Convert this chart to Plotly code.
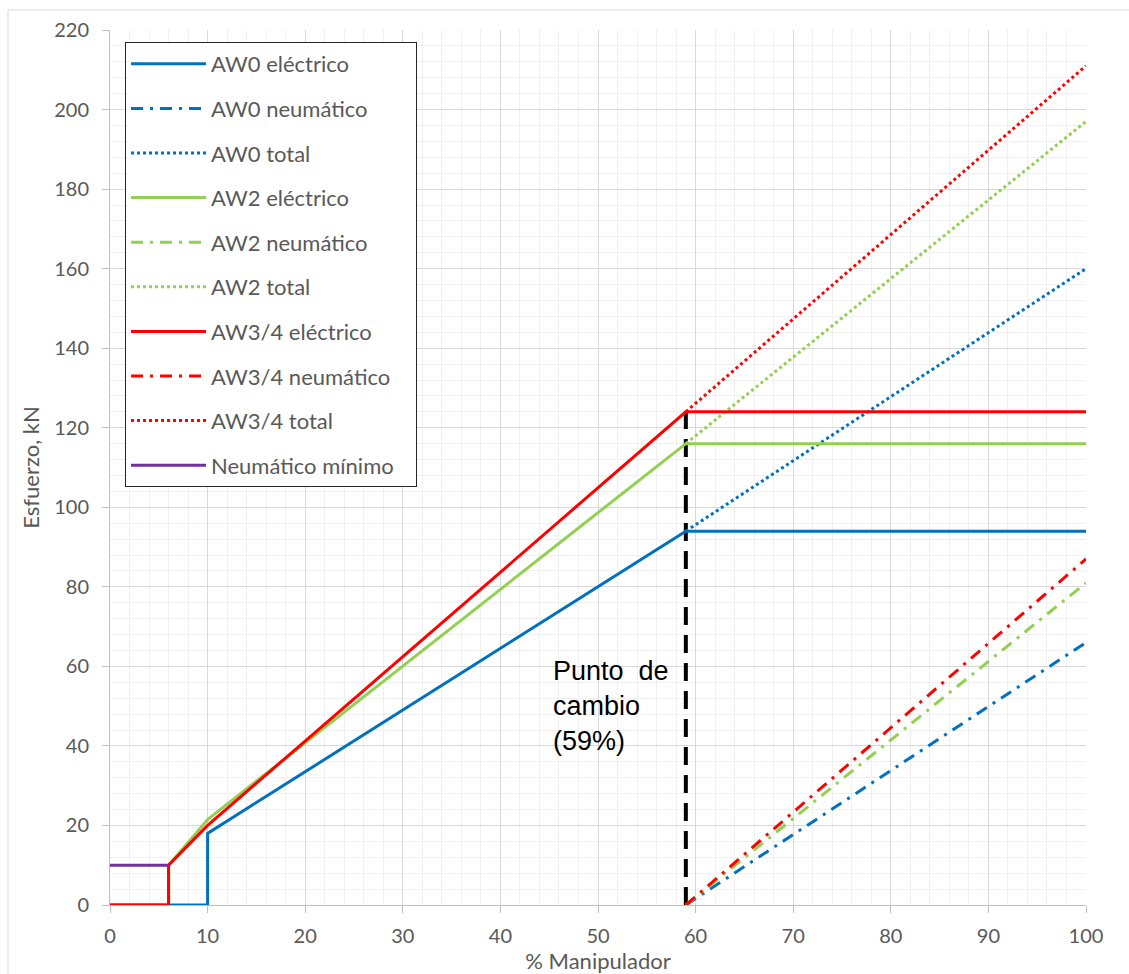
import plotly.graph_objects as go

# % manipulator positions and braking effort (kN) for each train type
x_aw0_elec = [0, 6, 10, 10, 59, 100]
y_aw0_elec = [0, 0, 0, 18, 94, 94]
x_aw2_elec = [0, 6, 6, 10, 59, 100]
y_aw2_elec = [0, 0, 10, 21.5, 116, 116]
x_aw34_elec = [0, 6, 6, 10, 59, 100]
y_aw34_elec = [0, 0, 10, 20, 124, 124]

# pneumatic contribution after the change point
x_neum = [59, 100]
y_aw0_neum = [0, 66]
y_aw2_neum = [0, 81]
y_aw34_neum = [0, 87]

# total effort (electric + pneumatic) after the change point
x_total = [59, 100]
y_aw0_total = [94, 160]
y_aw2_total = [116, 197]
y_aw34_total = [124, 211]

# minimum pneumatic effort
x_min = [0, 6]
y_min = [10, 10]

# change point
change_x = 59
change_y_top = 124

BLUE = "#0070C0"
GREEN = "#92D050"
RED = "#FF0000"
PURPLE = "#7030A0"
GRAY_TXT = "#595959"
FONT = "Lato, Open Sans, sans-serif"

DASHDOT = "12px,7px,3px,7px"

series = [
    ("AW0 eléctrico", x_aw0_elec, y_aw0_elec, BLUE, "solid"),
    ("AW0 neumático", x_neum, y_aw0_neum, BLUE, DASHDOT),
    ("AW0 total", x_total, y_aw0_total, BLUE, "dot"),
    ("AW2 eléctrico", x_aw2_elec, y_aw2_elec, GREEN, "solid"),
    ("AW2 neumático", x_neum, y_aw2_neum, GREEN, DASHDOT),
    ("AW2 total", x_total, y_aw2_total, GREEN, "dot"),
    ("AW3/4 eléctrico", x_aw34_elec, y_aw34_elec, RED, "solid"),
    ("AW3/4 neumático", x_neum, y_aw34_neum, RED, DASHDOT),
    ("AW3/4 total", x_total, y_aw34_total, RED, "dot"),
    # trailing no-break spaces give the legend box some right padding
    ("Neumático mínimo\u00a0\u00a0\u00a0", x_min, y_min, PURPLE, "solid"),
]

fig = go.Figure()

# vertical dashed marker for the change point
fig.add_trace(go.Scatter(
    x=[change_x, change_x], y=[0, change_y_top], mode="lines",
    line=dict(color="black", width=4, dash="18px,10px"),
    showlegend=False, hoverinfo="skip",
))

for i, (name, xs, ys, color, dash) in enumerate(series):
    fig.add_trace(go.Scatter(
        x=xs, y=ys, mode="lines", name=name,
        line=dict(color=color, width=3, dash=dash),
        legendgroup=f"g{i}",
    ))

fig.add_annotation(
    x=45.2, y=50, xref="x", yref="y",
    text="Punto\u00a0\u00a0de<br>cambio<br>(59%)",
    showarrow=False, xanchor="left", yanchor="middle", align="left",
    font=dict(family="Liberation Sans, Arial", size=27, color="black"),
)

# light outer chart border
fig.add_shape(
    type="rect", xref="paper", yref="paper",
    x0=-0.1045, x1=1.2, y0=-0.3, y1=1.0229,
    line=dict(color="#D9D9D9", width=1), fillcolor="rgba(0,0,0,0)", layer="below",
)

axis_font = dict(family=FONT, size=20, color=GRAY_TXT)
title_font = dict(family=FONT, size=22, color=GRAY_TXT)

fig.update_layout(
    width=1129, height=974,
    margin=dict(l=110, r=43, t=30, b=69),
    paper_bgcolor="white", plot_bgcolor="white",
    font=dict(family=FONT, color=GRAY_TXT),
    showlegend=True,
    legend=dict(
        x=0.0154, y=0.9863, xanchor="left", yanchor="top",
        bgcolor="white", bordercolor="#262626", borderwidth=1,
        font=dict(family=FONT, size=22, color=GRAY_TXT),
        tracegroupgap=13, itemwidth=75,
    ),
    xaxis=dict(
        range=[0, 100], dtick=10, tick0=0, automargin=False,
        showgrid=True, gridcolor="#D9D9D9", gridwidth=1,
        minor=dict(dtick=2, showgrid=True, gridcolor="#F0F0F0", gridwidth=1),
        showline=True, linecolor="#BFBFBF", linewidth=1,
        ticks="outside", ticklen=7, tickcolor="#BFBFBF",
        tickfont=axis_font, zeroline=False, ticklabelstandoff=6,
        title=dict(text="% Manipulador", font=title_font, standoff=4),
    ),
    yaxis=dict(
        range=[0, 220], dtick=20, tick0=0, automargin=False,
        showgrid=True, gridcolor="#D9D9D9", gridwidth=1,
        minor=dict(dtick=4, showgrid=True, gridcolor="#F0F0F0", gridwidth=1),
        showline=True, linecolor="#BFBFBF", linewidth=1,
        ticks="outside", ticklen=7, tickcolor="#BFBFBF",
        tickfont=axis_font, zeroline=False, ticklabelstandoff=9,
        title=dict(text="Esfuerzo, kN", font=title_font, standoff=8),
    ),
)

fig.write_html("out.html")
